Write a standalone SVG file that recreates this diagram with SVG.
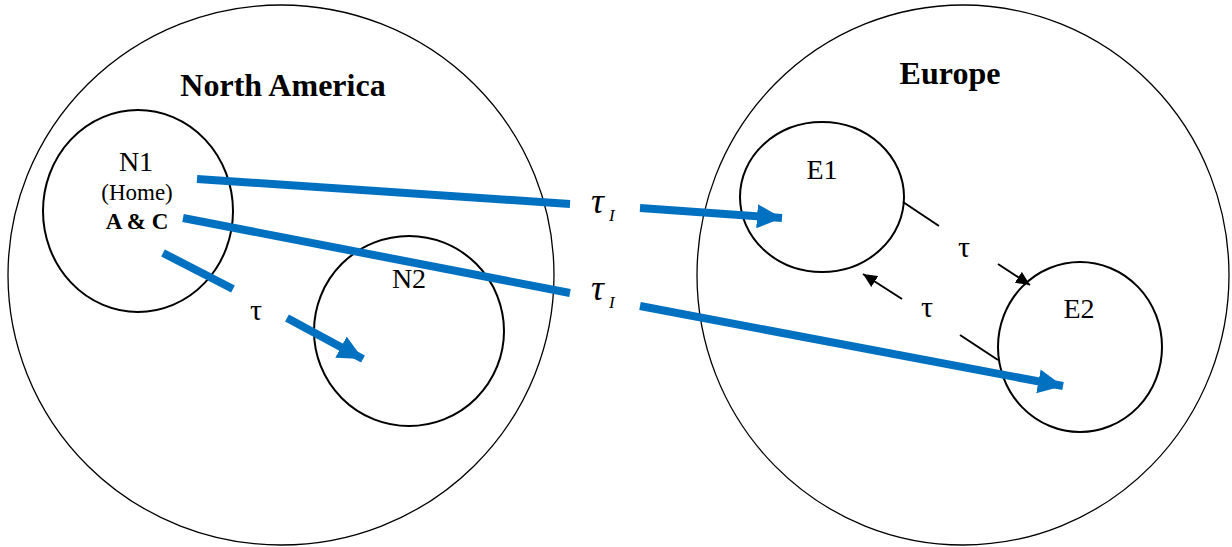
<svg xmlns="http://www.w3.org/2000/svg" width="1232" height="547" viewBox="0 0 1232 547">
<defs>
<style>
.reg{fill:none;stroke:#000;stroke-width:1.3}
.sub{fill:none;stroke:#000;stroke-width:2}
.blue{stroke:#0070C0;stroke-width:8;fill:none}
.blk{stroke:#000;stroke-width:2;fill:none}
text{font-family:"Liberation Serif","Times New Roman",serif;fill:#000}
.title{font-size:32px;font-weight:bold;text-anchor:middle}
.lab{font-size:28px;text-anchor:middle}
.tau{font-size:30px;text-anchor:middle}
.taui{font-size:36px;font-style:italic}
.si{font-size:17px;font-style:italic}
</style>
<marker id="bh" markerUnits="userSpaceOnUse" markerWidth="26" markerHeight="24" refX="25" refY="12" orient="auto">
<path d="M0,0 L25,12 L0,24 Z" fill="#0070C0"/>
</marker>
<marker id="kh" markerUnits="userSpaceOnUse" markerWidth="15" markerHeight="13" refX="14" refY="6.5" orient="auto">
<path d="M0,0 L14,6.5 L0,13 Z" fill="#000"/>
</marker>
</defs>
<g id="north-america">
<ellipse class="reg" cx="281" cy="275" rx="273" ry="270"/>
<text class="title" x="283" y="96">North America</text>
</g>
<g id="europe">
<ellipse class="reg" cx="963" cy="275" rx="266" ry="270"/>
<text class="title" x="950" y="84">Europe</text>
</g>
<g id="n1">
<ellipse class="sub" cx="138" cy="211" rx="95" ry="101"/>
<text class="lab" x="136" y="171">N1</text>
<text x="137" y="200" style="font-size:23px;text-anchor:middle">(Home)</text>
<text x="137" y="229" style="font-size:23px;font-weight:bold;text-anchor:middle">A &amp; C</text>
</g>
<g id="n2">
<circle class="sub" cx="409" cy="331" r="95"/>
<text class="lab" x="409" y="288">N2</text>
</g>
<g id="e1">
<ellipse class="sub" cx="822" cy="197" rx="82" ry="75"/>
<text class="lab" x="822" y="179">E1</text>
</g>
<g id="e2">
<ellipse class="sub" cx="1080" cy="347" rx="82" ry="85"/>
<text class="lab" x="1079" y="318">E2</text>
</g>
<g id="connectors">
<line class="blue" x1="197" y1="179" x2="570" y2="204"/>
<line class="blue" x1="640" y1="208" x2="782" y2="218" marker-end="url(#bh)"/>
<line class="blue" x1="183" y1="218" x2="570" y2="293"/>
<line class="blue" x1="640" y1="306" x2="1063" y2="386" marker-end="url(#bh)"/>
<line class="blue" x1="163" y1="253" x2="233" y2="289"/>
<line class="blue" x1="287" y1="318" x2="363" y2="359" marker-end="url(#bh)"/>
<line class="blk" x1="903" y1="202" x2="939" y2="226"/>
<line class="blk" x1="998" y1="264" x2="1030" y2="285" marker-end="url(#kh)"/>
<line class="blk" x1="998" y1="360" x2="960" y2="335"/>
<line class="blk" x1="902" y1="299" x2="863" y2="274" marker-end="url(#kh)"/>
<text class="taui" x="591" y="213">τ</text>
<text class="si" x="609" y="221">I</text>
<text class="taui" x="591" y="300">τ</text>
<text class="si" x="609" y="308">I</text>
<text class="tau" x="256" y="320">τ</text>
<text class="tau" x="964" y="257">τ</text>
<text class="tau" x="927" y="317">τ</text>
</g>
</svg>
